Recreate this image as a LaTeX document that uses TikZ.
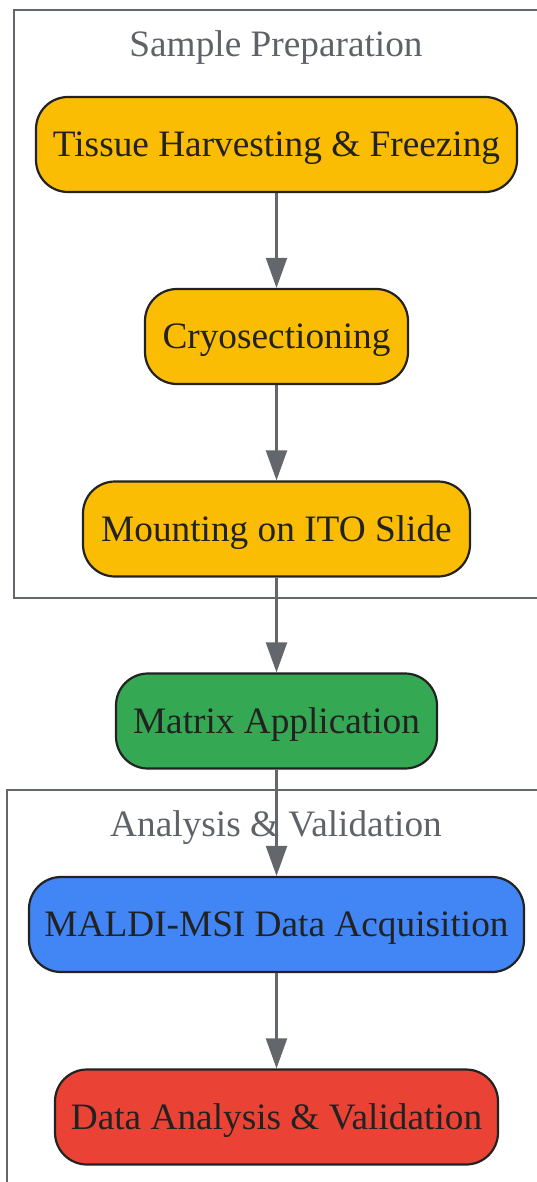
\documentclass[tikz,border=0pt]{standalone}
\usepackage{fontspec}
\setmainfont{Liberation Serif}
\usetikzlibrary{arrows.meta}
\definecolor{gyellow}{HTML}{FBBC04}
\definecolor{ggreen}{HTML}{34A853}
\definecolor{gblue}{HTML}{4285F4}
\definecolor{gred}{HTML}{EA4335}
\definecolor{edgegray}{HTML}{63666B}
\definecolor{titlegray}{HTML}{5F6368}
\definecolor{txt}{HTML}{222222}
\tikzset{
  stepbox/.style={draw=txt, line width=2.2pt, rounded corners=32pt, inner sep=0pt,
    minimum height=95pt, text=txt, font=\fontsize{37.3}{44}\selectfont,
    text height=24.7pt, text depth=0pt},
  cluster/.style={draw=edgegray, line width=2pt},
  ctitle/.style={text=titlegray, font=\fontsize{37.3}{44}\selectfont, inner sep=0pt,
    text height=24.7pt, text depth=0pt},
  flow/.style={draw=edgegray, line width=2.2pt, -{Triangle[length=30pt,width=21pt]}}
}
\begin{document}
\begin{tikzpicture}[x=1pt,y=-1pt]
\useasboundingbox (0,0) rectangle (536,1182);
% clusters
\draw[cluster] (540,10) -- (14,10) -- (14,598) -- (540,598);
\draw[cluster] (540,790) -- (7,790) -- (7,1190);
\node[ctitle] (t1) at (276,44) {Sample Preparation};
\node[ctitle] (t2) at (276,824) {Analysis \& Validation};
% nodes
\node[stepbox, fill=gyellow, minimum width=481pt] (n1) at (276.5,144.5) {Tissue Harvesting \& Freezing};
\node[stepbox, fill=gyellow, minimum width=263pt] (n2) at (276.5,336.5) {Cryosectioning};
\node[stepbox, fill=gyellow, minimum width=387pt] (n3) at (276.5,529) {Mounting on ITO Slide};
\node[stepbox, fill=ggreen, minimum width=321pt] (n4) at (276.5,721) {Matrix Application};
\node[stepbox, fill=gblue, minimum width=495pt] (n5) at (276.5,924.5) {MALDI-MSI Data Acquisition};
\node[stepbox, fill=gred, minimum width=443pt] (n6) at (276.5,1117) {Data Analysis \& Validation};
% edges
\draw[flow] (n1) -- (n2);
\draw[flow] (n2) -- (n3);
\draw[flow] (n3) -- (n4);
\draw[flow] (n4) -- (n5);
\draw[flow] (n5) -- (n6);
\end{tikzpicture}
\end{document}
